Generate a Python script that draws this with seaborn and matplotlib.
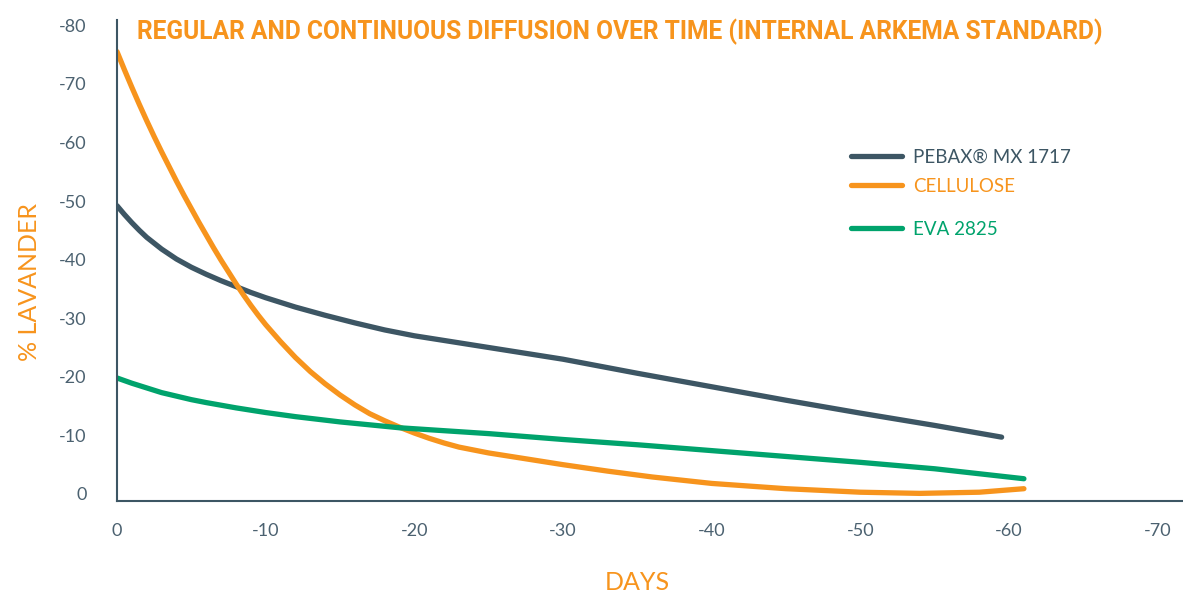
import matplotlib
matplotlib.use("Agg")
import matplotlib.pyplot as plt
import seaborn as sns
import pandas as pd
from matplotlib.lines import Line2D

# ---- data ----
pebax_days = [0, 0.5, 1, 1.5, 2, 3, 4, 5, 6, 7, 8, 9, 10, 12, 14, 16, 18, 20, 22, 25, 30, 35, 40, 45, 50, 55, 59.5]
pebax_vals = [49.2, 47.7, 46.3, 45.0, 43.8, 41.8, 40.1, 38.7, 37.5, 36.4, 35.4, 34.4, 33.5, 31.9, 30.5, 29.2, 28.0,
              27.0, 26.2, 25.0, 23.0, 20.6, 18.3, 16.0, 13.8, 11.7, 9.7]

cell_days = [0, 0.5, 1, 1.5, 2, 2.5, 3, 3.5, 4, 4.5, 5, 5.5, 6, 6.5, 7, 7.5, 8, 8.5, 9, 9.5, 10, 11, 12, 13, 14, 15,
             16, 17, 18, 19, 20, 21, 22, 23, 24, 25, 27, 30, 33, 36, 40, 45, 50, 54, 58, 61]
cell_vals = [75.5, 72.4, 69.4, 66.5, 63.7, 61.0, 58.4, 55.9, 53.4, 51.0, 48.7, 46.4, 44.2, 42.0, 39.9, 37.9, 35.9,
             34.0, 32.2, 30.5, 28.9, 26.0, 23.3, 20.9, 18.8, 16.9, 15.2, 13.7, 12.5, 11.4, 10.4, 9.5, 8.7, 8.0,
             7.5, 7.0, 6.2, 5.0, 3.9, 2.9, 1.8, 0.9, 0.3, 0.1, 0.3, 0.9]

eva_days = [0, 1, 2, 3, 4, 5, 6, 8, 10, 12, 15, 19, 25, 30, 35, 40, 45, 50, 55, 61]
eva_vals = [19.8, 18.9, 18.1, 17.3, 16.7, 16.1, 15.6, 14.7, 13.9, 13.2, 12.3, 11.3, 10.3, 9.3, 8.4, 7.4, 6.4, 5.4, 4.3, 2.6]

series_names = ["PEBAX® MX 1717", "CELLULOSE", "EVA 2825"]
x_ticks = [0, 10, 20, 30, 40, 50, 60, 70]
x_tick_labels = ["0", "-10", "-20", "-30", "-40", "-50", "-60", "-70"]
y_ticks = [0, 10, 20, 30, 40, 50, 60, 70, 80]
y_tick_labels = ["0", "-10", "-20", "-30", "-40", "-50", "-60", "-70", "-80"]

title = "REGULAR AND CONTINUOUS DIFFUSION OVER TIME (INTERNAL ARKEMA STANDARD)"

# ---- styles ----
SLATE = "#3d5664"
ORANGE = "#f7941d"
GREEN = "#00a36c"
TICK = "#4b6170"
palette = {series_names[0]: SLATE, series_names[1]: ORANGE, series_names[2]: GREEN}

df = pd.concat([
    pd.DataFrame({"day": pebax_days, "val": pebax_vals, "series": series_names[0]}),
    pd.DataFrame({"day": cell_days, "val": cell_vals, "series": series_names[1]}),
    pd.DataFrame({"day": eva_days, "val": eva_vals, "series": series_names[2]}),
], ignore_index=True)

sns.set_theme(style="white")
plt.rcParams["font.family"] = ["Lato", "DejaVu Sans"]

fig = plt.figure(figsize=(11.83, 5.94), dpi=100)
ax = fig.add_axes([117 / 1183, 93 / 594, 1 - 117 / 1183, (501 - 20) / 594])

sns.lineplot(data=df, x="day", y="val", hue="series", palette=palette, ax=ax,
             linewidth=3.8, legend=False, sort=False)
for ln in ax.lines:
    ln.set_solid_capstyle("round")
    ln.set_solid_joinstyle("round")

ax.set_xlim(0, 71.7)
ax.set_ylim(-1.2, 80.9)
ax.set_xticks(x_ticks)
ax.set_xticklabels(x_tick_labels)
ax.set_yticks(y_ticks)
ax.set_yticklabels(y_tick_labels)
ax.tick_params(axis="both", length=0, labelsize=13, labelcolor=TICK)
ax.tick_params(axis="x", pad=16)
ax.tick_params(axis="y", pad=22)

for side in ["top", "right"]:
    ax.spines[side].set_visible(False)
for side in ["left", "bottom"]:
    ax.spines[side].set_color(SLATE)
    ax.spines[side].set_linewidth(1.5)

ax.set_xlabel("")
ax.set_ylabel("")
fig.text(637 / 1183, 1 - 583 / 594, "DAYS", color=ORANGE, fontsize=18,
         ha="center", va="center", fontweight="normal")
fig.text(30 / 1183, 1 - 282 / 594, "% LAVANDER", color=ORANGE, fontsize=18,
         ha="center", va="center", rotation=90, fontweight="normal")
fig.text(137 / 1183, 1 - 32 / 594, title, color=ORANGE, fontsize=17.7,
         ha="left", va="center", fontweight="bold", family=["Roboto", "DejaVu Sans"])

# legend (one entry per legend to match irregular spacing)
leg_y = [157, 186, 229]
for name, yy in zip(series_names, leg_y):
    h = Line2D([0], [0], color=palette[name], lw=3.8, solid_capstyle="round")
    lg = fig.legend([h], [name], loc="center left",
                    bbox_to_anchor=(851 / 1183, 1 - yy / 594),
                    frameon=False, fontsize=13.5, handlelength=2.7, handletextpad=0.6,
                    borderpad=0, borderaxespad=0)
    for t in lg.get_texts():
        t.set_color(palette[name])

fig.savefig("out.png", dpi=100)
